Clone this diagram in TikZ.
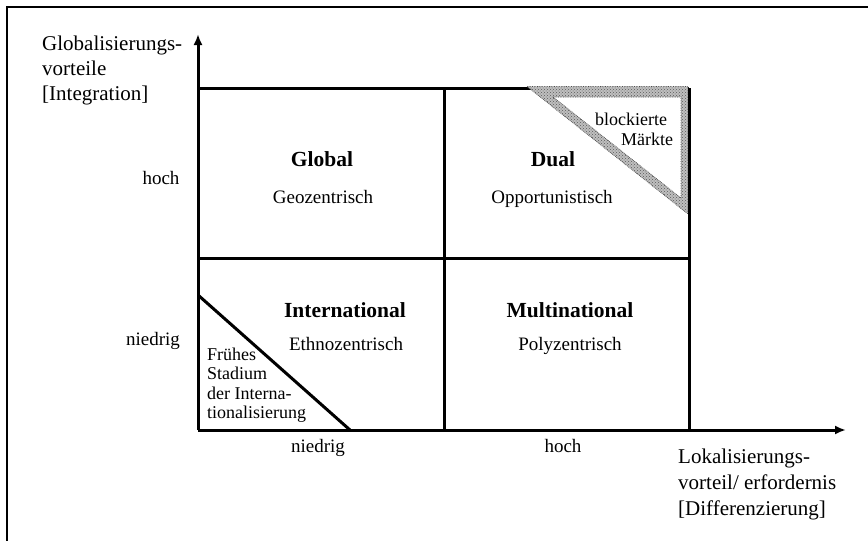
\documentclass[tikz,border=0pt]{standalone}
\usepackage{fontspec}
\setmainfont{Liberation Serif}
\usetikzlibrary{arrows.meta,patterns}

\begin{document}
\begin{tikzpicture}[x=1pt,y=-1pt,
  gridline/.style={line width=3pt},
  axistip/.style={-{Latex[length=11pt,width=9pt]}},
  axislabel/.style={font=\fontsize{21}{25}\selectfont, inner sep=0, anchor=base west},
  level/.style={font=\fontsize{19}{22}\selectfont, inner sep=0, anchor=base},
  strat/.style={font=\bfseries\fontsize{21.5}{25}\selectfont, inner sep=0, anchor=base},
  orient/.style={font=\fontsize{19}{22}\selectfont, inner sep=0, anchor=base},
  note/.style={font=\fontsize{18}{20}\selectfont, inner sep=0},
]
\useasboundingbox (0,0) rectangle (868,541);
\fill[white] (0,0) rectangle (868,541);

% outer frame (top and left edges)
\draw[line width=1.5pt] (7,541) -- (7,7) -- (868,7);

% key points of the matrix
\coordinate (O)    at (198,430);
\coordinate (ytip) at (198,34);
\coordinate (xtip) at (846,430);
\coordinate (TL)   at (198,88);
\coordinate (TM)   at (444,88);
\coordinate (TR)   at (689,88);
\coordinate (ML)   at (198,258);
\coordinate (MR)   at (689,258);
\coordinate (BM)   at (444,430);
\coordinate (BR)   at (689,430);

% axes
\draw[gridline, axistip] (O) -- (ytip);
\draw[gridline, axistip] (O) -- (xtip);

% four-field grid
\draw[gridline] (TL) -- (TR);
\draw[gridline] (TM) -- (BM);
\draw[gridline] (ML) -- (MR);

% early stage of internationalisation
\coordinate (es1) at (198,295);
\coordinate (es2) at (350,430);
\draw[gridline] (es1) -- (es2);

% blocked markets: stippled triangular band
\fill[gray!50, even odd rule]
  (527,86.5) -- (688,86.5) -- (688,214) -- cycle
  (553,97) -- (681,97) -- (681,198) -- cycle;
\fill[pattern=crosshatch dots, pattern color=gray!70!black, even odd rule]
  (527,86.5) -- (688,86.5) -- (688,214) -- cycle
  (553,97) -- (681,97) -- (681,198) -- cycle;
\draw[gray!60!black, line width=0.7pt, densely dotted]
  (527,86.5) -- (688,86.5) -- (688,214) -- cycle
  (553,97) -- (681,97) -- (681,198) -- cycle;

% right edge of the grid
\draw[gridline] (TR) -- (BR);

% axis titles
\node[axislabel] (g1) at (42,50)  {Globalisierungs-};
\node[axislabel] (g2) at (42,75)  {vorteile};
\node[axislabel] (g3) at (42,100) {[Integration]};

\node[axislabel] (l1) at (678,463) {Lokalisierungs-};
\node[axislabel] (l2) at (678,489) {vorteil/ erfordernis};
\node[axislabel] (l3) at (678,515) {[Differenzierung]};

% axis levels
\node[level] (yhoch)    at (161,184) {hoch};
\node[level] (yniedrig) at (153,345) {niedrig};
\node[level] (xniedrig) at (318,452) {niedrig};
\node[level] (xhoch)    at (563,452) {hoch};

% strategies
\node[strat]  (global) at (322,166) {Global};
\node[orient] (geo)    at (323,203) {Geozentrisch};
\node[strat]  (dual)   at (553,166) {Dual};
\node[orient] (opp)    at (552,203) {Opportunistisch};
\node[strat]  (inter)  at (345,317) {International};
\node[orient] (ethno)  at (346,350) {Ethnozentrisch};
\node[strat]  (multi)  at (570,317) {Multinational};
\node[orient] (poly)   at (570,350) {Polyzentrisch};

% notes inside the triangles
\node[note, anchor=base] (bl1) at (631,125) {blockierte};
\node[note, anchor=base] (bl2) at (647,145) {Märkte};

\node[note, anchor=base west] (fr1) at (207,360)   {Frühes};
\node[note, anchor=base west] (fr2) at (207,379.5) {Stadium};
\node[note, anchor=base west] (fr3) at (207,399)   {der Interna-};
\node[note, anchor=base west] (fr4) at (207,418.5) {tionalisierung};
\end{tikzpicture}
\end{document}
